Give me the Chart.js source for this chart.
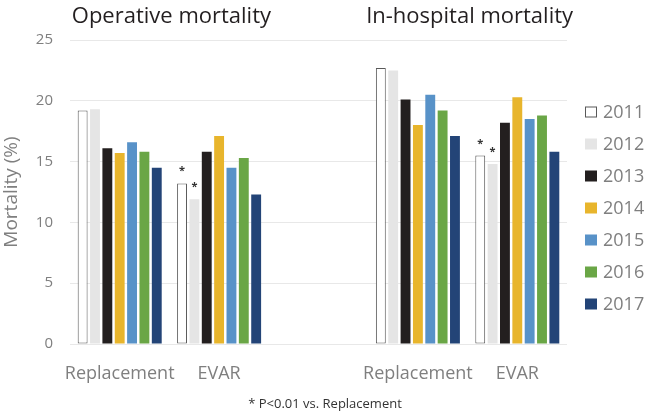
<!DOCTYPE html>
<html>
<head>
<meta charset="utf-8">
<script src="https://cdn.jsdelivr.net/npm/chart.js@4"></script>
<style>
  html, body { margin: 0; padding: 0; background: #fff; }
  #wrap { width: 646px; height: 414px; }
</style>
</head>
<body>
<div id="wrap"><canvas id="chart"></canvas></div>
<script>
// data
const categories = ['Replacement', 'EVAR', '', 'Replacement', 'EVAR'];
const years = ['2011', '2012', '2013', '2014', '2015', '2016', '2017'];
const operativeReplacement = [19.2, 19.3, 16.1, 15.7, 16.6, 15.8, 14.5];
const operativeEvar = [13.2, 11.9, 15.8, 17.1, 14.5, 15.3, 12.3];
const hospitalReplacement = [22.7, 22.5, 20.1, 18.0, 20.5, 19.2, 17.1];
const hospitalEvar = [15.5, 14.8, 18.2, 20.3, 18.5, 18.8, 15.8];
const significantYears = ['2011', '2012']; // * P<0.01 vs. Replacement, EVAR groups
const panelTitles = ['Operative mortality', 'In-hospital mortality'];
const yTicks = [0, 5, 10, 15, 20, 25];

const colors = ['#ffffff', '#e5e5e5', '#231f1f', '#e8b52c', '#5892c8', '#6aa646', '#234477'];

Chart.defaults.font.family = "'Open Sans', sans-serif";

const datasets = years.map((y, i) => ({
    label: y,
    data: [operativeReplacement[i], operativeEvar[i], null, hospitalReplacement[i], hospitalEvar[i]],
    backgroundColor: colors[i],
    borderColor: i == 0 ? '#595959' : colors[i],
    borderWidth: i == 0 ? 1 : 0,
    borderSkipped: false,
    categoryPercentage: 0.87,
    barPercentage: 0.8
}));

const extras = {
    id: 'extras',
    afterDatasetsDraw(chart) {
        const ctx = chart.ctx;
        const x = chart.scales.x;
        ctx.save();
        // panel titles
        ctx.fillStyle = '#231f20';
        ctx.font = "22px 'Open Sans'";
        ctx.textAlign = 'center';
        ctx.textBaseline = 'alphabetic';
        ctx.fillText(panelTitles[0], (x.getPixelForValue(0) + x.getPixelForValue(1)) / 2 + 2, 23);
        ctx.fillText(panelTitles[1], (x.getPixelForValue(3) + x.getPixelForValue(4)) / 2 + 2, 23);

        // asterisks over EVAR bars
        ctx.font = "bold 11px 'Open Sans'";
        ctx.fillStyle = '#333';
        chart.data.datasets.forEach((ds, i) => {
            if (!significantYears.includes(ds.label)) return;
            const meta = chart.getDatasetMeta(i);
            [1, 4].forEach(idx => {
                const bar = meta.data[idx];
                ctx.fillText('*', bar.x, bar.y - 9);
            });
        });

        // legend
        ctx.font = "18px 'Open Sans'";
        ctx.textAlign = 'left';
        ctx.textBaseline = 'middle';
        chart.data.datasets.forEach((ds, i) => {
            const cy = 112 + i * 32;
            ctx.fillStyle = ds.backgroundColor;
            ctx.fillRect(585, cy - 5.5, 12, 11);
            if (ds.borderWidth) {
                ctx.strokeStyle = ds.borderColor;
                ctx.lineWidth = 1;
                ctx.strokeRect(585.5, cy - 5, 11, 10);
            }
            ctx.fillStyle = '#7f7f7f';
            ctx.fillText(ds.label, 603, cy + 1);
        });

        // footnote
        ctx.font = "13px 'Open Sans'";
        ctx.fillStyle = '#333';
        ctx.textAlign = 'center';
        ctx.fillText('* P<0.01 vs. Replacement', chart.width / 2 + 2, 404);
        ctx.restore();
    }
};

new Chart(document.getElementById('chart'), {
    type: 'bar',
    data: { labels: categories, datasets: datasets },
    options: {
        responsive: true,
        maintainAspectRatio: false,
        animation: false,
        layout: { padding: { top: 40, right: 79, bottom: 0, left: 0 } },
        plugins: {
            legend: { display: false },
            tooltip: { enabled: false }
        },
        scales: {
            x: {
                grid: { display: false },
                border: { display: false },
                ticks: { color: '#7f7f7f', font: { size: 18 }, padding: 11, maxRotation: 0, autoSkip: false },
                afterFit(scale) { scale.height = 70; }
            },
            y: {
                min: 0,
                max: 25,
                afterBuildTicks(scale) { scale.ticks = yTicks.map(v => ({ value: v })); },
                grid: { color: '#e8e8e8', drawTicks: false },
                border: { display: false },
                ticks: { color: '#7f7f7f', font: { size: 15 }, padding: 17 },
                title: { display: true, text: 'Mortality (%)', color: '#7f7f7f', font: { size: 19 }, padding: 0 },
                afterFit(scale) { scale.width = 70; }
            }
        }
    },
    plugins: [extras]
});
</script>
</body>
</html>
